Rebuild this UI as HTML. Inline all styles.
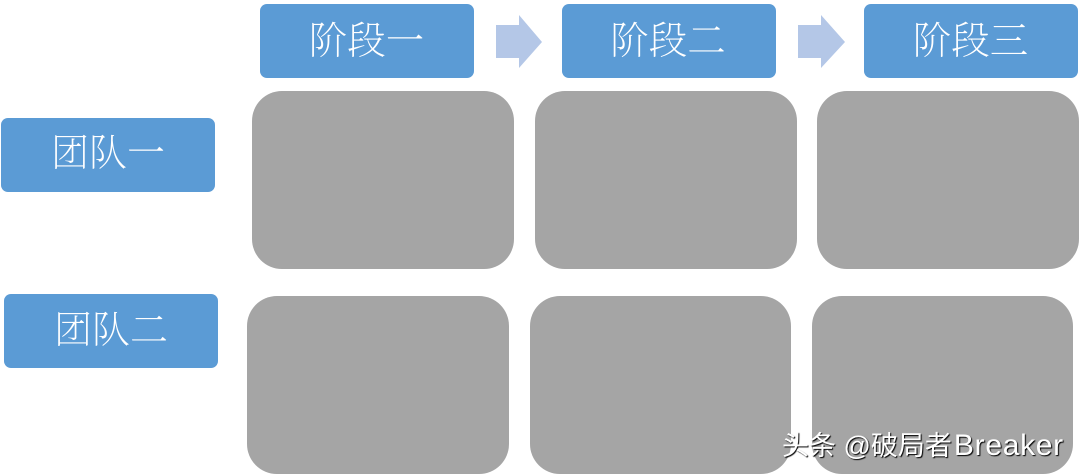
<!DOCTYPE html>
<html lang="zh">
<head>
<meta charset="utf-8">
<style>
html,body{margin:0;padding:0;background:#fff;}
#c{position:relative;width:1080px;height:475px;overflow:hidden;background:#fff;}
.b{position:absolute;width:214px;height:74px;background:#5b9bd5;border-radius:7px;color:#fff;
font-family:"Liberation Serif","Noto Serif CJK SC",serif;font-size:38px;font-weight:200;line-height:74px;text-align:center;}
.g{position:absolute;width:261.5px;height:178px;background:#a5a5a5;border-radius:30px;}
svg{position:absolute;left:0;top:0;}
#w{position:absolute;left:782px;top:430px;height:32px;font-family:"Liberation Sans","Noto Sans CJK SC",sans-serif;font-size:27px;line-height:32px;color:#fff;white-space:nowrap;text-shadow:1px 1px 1px #000;}
#w span{font-size:30px;letter-spacing:0.7px;margin-left:2px;}
</style>
</head>
<body>
<div id="c">
<div class="b" style="left:260px;top:4px;line-height:77px;font-size:38.5px;text-indent:-1px;">阶段一</div>
<div class="b" style="left:561.5px;top:4px;line-height:77px;font-size:38.5px;text-indent:-1px;">阶段二</div>
<div class="b" style="left:864px;top:4px;line-height:77px;font-size:38.5px;text-indent:-1px;">阶段三</div>
<div class="b" style="left:1px;top:118px;line-height:72px;">团队一</div>
<div class="b" style="left:4px;top:294px;">团队二</div>
<svg width="1080" height="475">
<polygon points="496,25 519,25 519,15 542,42 519,68 519,58 496,58" fill="#b4c7e7"/>
<polygon points="798,25 821,25 821,15 845,42 821,68 821,58 798,58" fill="#b4c7e7"/>
</svg>
<div class="g" style="left:252px;top:90.5px;"></div>
<div class="g" style="left:535px;top:90.5px;"></div>
<div class="g" style="left:817px;top:90.5px;"></div>
<div class="g" style="left:247px;top:295.5px;"></div>
<div class="g" style="left:530px;top:295.5px;width:261px;"></div>
<div class="g" style="left:812px;top:295.5px;width:261px;"></div>
<div id="w">头条 @破局者<span>Breaker</span></div>
</div>
</body>
</html>
